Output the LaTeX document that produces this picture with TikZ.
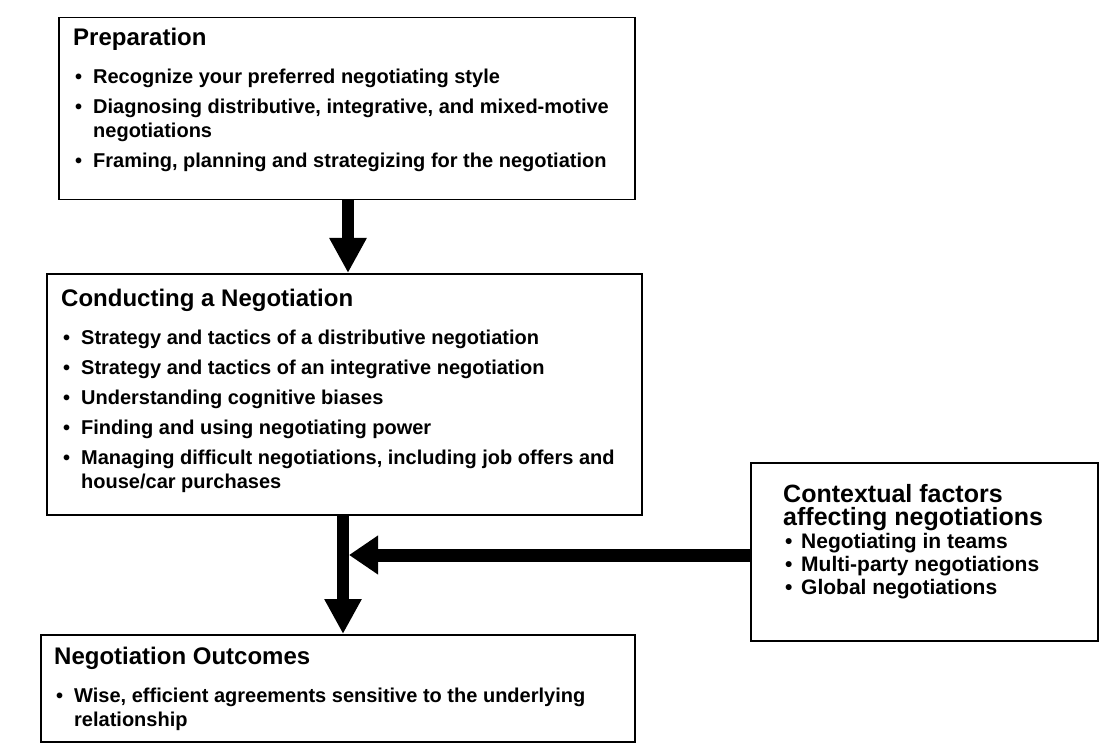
\documentclass[tikz,border=0pt]{standalone}
\usepackage{fontspec}
\setmainfont{Liberation Sans}
\usetikzlibrary{arrows.meta}
\newcommand\bsepval{6pt}
\newcommand\hangw{20pt}
\newcommand\wsp{\spaceskip=0.278em plus 0.1em\relax\xspaceskip=\spaceskip}
\newcommand\bitem{\par\vspace{\bsepval}\hangindent=\hangw\hangafter=1\noindent\makebox[\hangw][l]{\hspace{2pt}\textbullet}\ignorespaces}
\newcommand\mainsetup{\bfseries\fontsize{20}{24}\selectfont\wsp\renewcommand\bsepval{6pt}}
\newcommand\mainhead[1]{{\fontsize{24}{24}\selectfont\wsp #1\par}\vspace{8pt}}
\newcommand\ctxsetup{\bfseries\fontsize{21}{23}\selectfont\wsp\renewcommand\bsepval{0pt}\renewcommand\hangw{18pt}}
\begin{document}
\begin{tikzpicture}[x=1pt,y=-1pt,
  box/.style={draw=black, line width=1.5pt, anchor=north west, inner sep=0pt},
  txt/.style={anchor=base west, inner sep=0pt, align=left, text width=#1},
  fat/.style={line width=12pt, -{Triangle[width=35pt,length=35pt]}},
  fath/.style={line width=13pt, -{Triangle[width=37pt,length=29pt]}}]
\useasboundingbox[fill=white] (0,0) rectangle (1102,743);
% boxes
\node[box, minimum width=576pt, minimum height=182pt] (prep) at (58,17) {};
\node[box, minimum width=595pt, minimum height=241pt] (cond) at (46,273) {};
\node[box, minimum width=594pt, minimum height=107pt] (outc) at (40,634) {};
\node[box, minimum width=347pt, minimum height=178pt] (ctx) at (750,462) {};
% texts
\node[txt=600pt] (preptext) at (73,46) {\mainsetup\mainhead{Preparation}%
  \bitem Recognize your preferred negotiating style
  \bitem Diagnosing distributive, integrative, and mixed-motive\newline negotiations
  \bitem Framing, planning and strategizing for the negotiation\par};
\node[txt=600pt] (condtext) at (61,306) {\mainsetup\mainhead{Conducting a Negotiation}%
  \bitem Strategy and tactics of a distributive negotiation
  \bitem Strategy and tactics of an integrative negotiation
  \bitem Understanding cognitive biases
  \bitem Finding and using negotiating power
  \bitem Managing difficult negotiations, including job offers and\newline house/car purchases\par};
\node[txt=600pt] (outctext) at (54,664) {\mainsetup\mainhead{Negotiation Outcomes}%
  \bitem Wise, efficient agreements sensitive to the underlying\newline relationship\par};
\node[txt=330pt] (ctxtext) at (783,502) {\ctxsetup{\fontsize{25}{23}\selectfont\wsp Contextual factors\newline affecting negotiations\par}%
  \bitem Negotiating in teams
  \bitem Multi-party negotiations
  \bitem Global negotiations\par};
% connectors
\coordinate (ax) at (348,0);
\coordinate (vx) at (343,0);
\coordinate (hy) at (0,555);
\draw[fat] (ax |- prep.south) -- (ax |- cond.north);
\draw[fat] (vx |- cond.south) -- (vx |- outc.north);
\draw[fath] (ctx.west |- hy) -- ([xshift=6pt]vx |- hy);
\end{tikzpicture}
\end{document}
